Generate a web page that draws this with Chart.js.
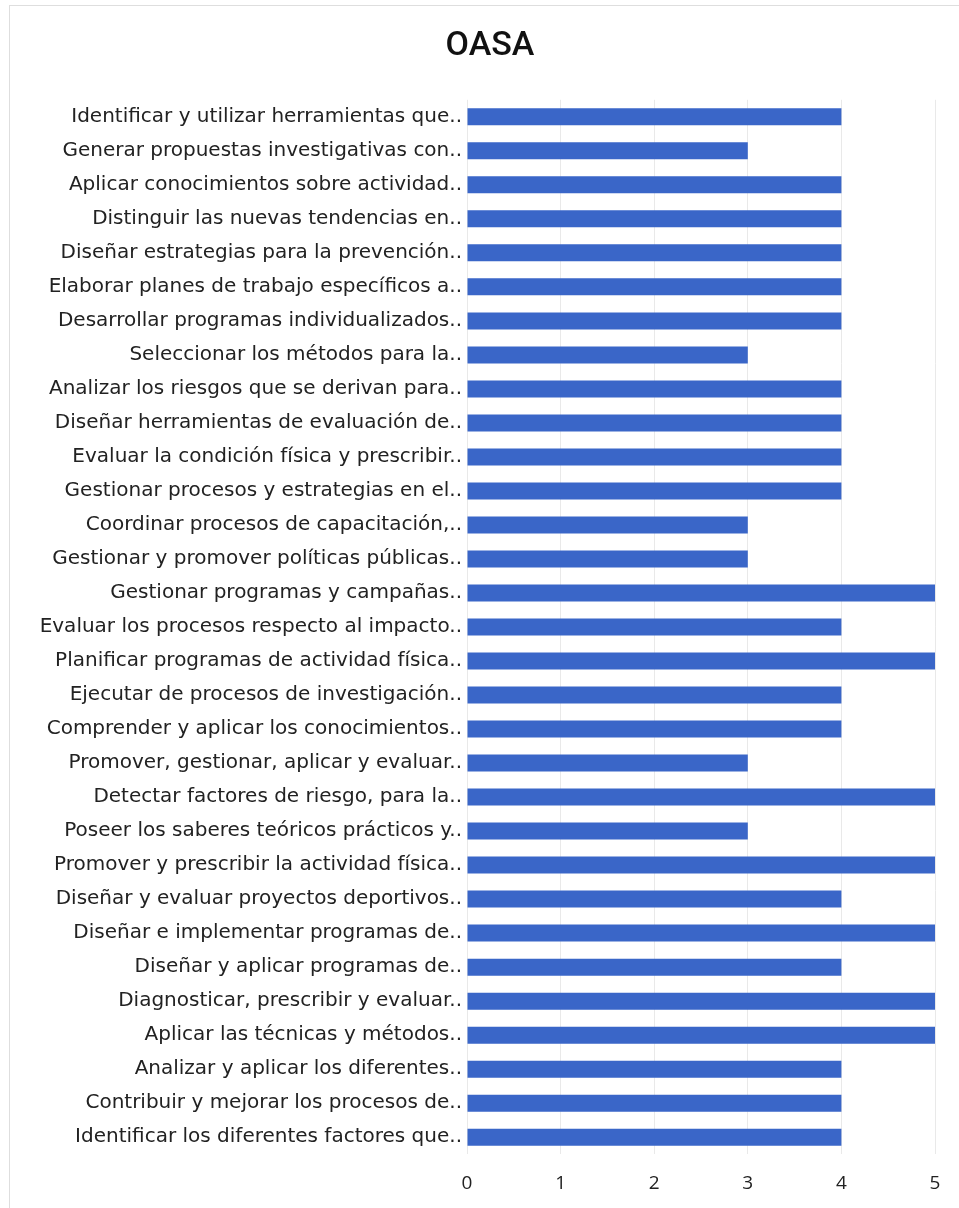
<!DOCTYPE html>
<html>
<head>
<meta charset="utf-8">
<script src="https://cdn.jsdelivr.net/npm/chart.js@4/dist/chart.umd.min.js"></script>
<style>
  html, body { margin: 0; padding: 0; background: #ffffff; }
  #wrap { position: relative; width: 959px; height: 1208px; }
  #frame { position: absolute; left: 9px; top: 5px; width: 960px; height: 1210px;
           border-top: 1px solid #dedede; border-left: 1px solid #dedede; }
  canvas { position: absolute; left: 0; top: 0; }
</style>
</head>
<body>
<div id="wrap">
  <div id="frame"></div>
  <canvas id="c" width="959" height="1208"></canvas>
</div>
<script>
const chartTitle = "OASA";

const categories = [
  "Identificar y utilizar herramientas que..",
  "Generar propuestas investigativas con..",
  "Aplicar conocimientos sobre actividad..",
  "Distinguir las nuevas tendencias en..",
  "Diseñar estrategias para la prevención..",
  "Elaborar planes de trabajo específicos a..",
  "Desarrollar programas individualizados..",
  "Seleccionar los métodos para la..",
  "Analizar los riesgos que se derivan para..",
  "Diseñar herramientas de evaluación de..",
  "Evaluar la condición física y prescribir..",
  "Gestionar procesos y estrategias en el..",
  "Coordinar procesos de capacitación,..",
  "Gestionar y promover políticas públicas..",
  "Gestionar programas y campañas..",
  "Evaluar los procesos respecto al impacto..",
  "Planificar programas de actividad física..",
  "Ejecutar de procesos de investigación..",
  "Comprender y aplicar los conocimientos..",
  "Promover, gestionar, aplicar y evaluar..",
  "Detectar factores de riesgo, para la..",
  "Poseer los saberes teóricos prácticos y..",
  "Promover y prescribir la actividad física..",
  "Diseñar y evaluar proyectos deportivos..",
  "Diseñar e implementar programas de..",
  "Diseñar y aplicar programas de..",
  "Diagnosticar, prescribir y evaluar..",
  "Aplicar las técnicas y métodos..",
  "Analizar y aplicar los diferentes..",
  "Contribuir y mejorar los procesos de..",
  "Identificar los diferentes factores que.."
];

const values = [4, 3, 4, 4, 4, 4, 4, 3, 4, 4, 4, 4, 3, 3, 5, 4, 5, 4, 4, 3, 5, 3, 5, 4, 5, 4, 5, 5, 4, 4, 4];

const xTicks = [0, 1, 2, 3, 4, 5];

new Chart(document.getElementById('c'), {
  type: 'bar',
  data: {
    labels: categories,
    datasets: [{
      data: values,
      backgroundColor: '#3a66c8',
      borderWidth: 0,
      barPercentage: 0.5,
      categoryPercentage: 1.0
    }]
  },
  options: {
    indexAxis: 'y',
    responsive: false,
    animation: false,
    layout: { padding: { left: 21, right: 0, top: 0, bottom: 1 } },
    plugins: {
      legend: { display: false },
      tooltip: { enabled: false },
      title: {
        display: true,
        text: chartTitle,
        color: '#111111',
        font: { family: 'Roboto, sans-serif', size: 34, weight: '500' },
        padding: { top: 26, bottom: 33 }
      }
    },
    scales: {
      x: {
        min: 0,
        max: 5,
        afterBuildTicks: (s) => { s.ticks = xTicks.map(v => ({ value: v })); },
        grid: { color: '#e9e9e9', lineWidth: 1, tickLength: 6, drawTicks: true, tickColor: '#ffffff' },
        border: { display: false },
        ticks: {
          color: '#222222',
          padding: 12,
          font: { family: 'Open Sans, sans-serif', size: 19 }
        }
      },
      y: {
        afterFit: (s) => { s.width = 446; },
        grid: { display: false, drawTicks: false },
        border: { display: false },
        ticks: {
          color: '#222222',
          padding: 5,
          autoSkip: false,
          font: { family: 'DejaVu Sans, sans-serif', size: 20 }
        }
      },
      yRight: {
        type: 'category',
        position: 'right',
        afterFit: (s) => { s.width = 24; },
        grid: { display: false, drawTicks: false },
        border: { display: false },
        ticks: { display: false }
      }
    }
  }
});
</script>
</body>
</html>
